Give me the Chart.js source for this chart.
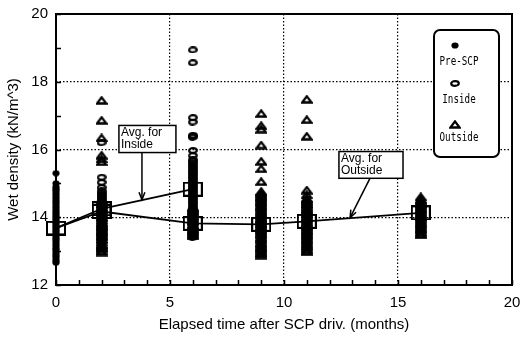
<!DOCTYPE html>
<html>
<head>
<meta charset="utf-8">
<script src="https://cdn.jsdelivr.net/npm/chart.js@4.4.1/dist/chart.umd.min.js"></script>
<style>
  html, body { margin: 0; padding: 0; background: #fff; }
  #wrap { width: 520px; height: 338px; }
</style>
</head>
<body>
<div id="wrap"><canvas id="c" width="520" height="338"></canvas></div>
<script>
// Wet density (kN/m^3) of individual samples, grouped by elapsed month
const preScpM0 = [12.66, 12.71, 12.77, 12.84, 12.9, 12.97, 13.03, 13.08, 13.15, 13.21, 13.28, 13.34, 13.39,
  13.45, 13.52, 13.58, 13.63, 13.69, 13.74, 13.8, 13.85, 13.91, 13.97, 14.02, 14.08, 14.14, 14.2, 14.27,
  14.33, 14.4, 14.46, 14.52, 14.59, 14.66, 14.72, 14.79, 14.84, 14.9, 15.0, 15.3];

const insideM2 = [13.35, 13.4, 13.46, 13.51, 13.57, 13.62, 13.68, 13.73, 13.79, 13.84, 13.9, 13.95, 14.01,
  14.06, 14.12, 14.17, 14.23, 14.28, 14.34, 14.39, 14.45, 14.5, 14.56, 14.61, 14.67, 14.72, 14.78,
  14.88, 15.03, 15.18, 16.2];
const insideM6 = [13.4, 13.45, 13.51, 13.56, 13.62, 13.67, 13.73, 13.78, 13.84, 13.89, 13.95, 14.0, 14.06,
  14.11, 14.17, 14.22, 14.28, 14.33, 14.39, 14.44, 14.5, 14.55, 14.61, 14.66, 14.72, 14.77, 14.83, 14.88,
  14.94, 14.99, 15.05, 15.1, 15.16, 15.21, 15.27, 15.32, 15.38, 15.43, 15.49, 15.54, 15.6, 15.65, 15.7,
  15.82, 15.97, 16.36, 16.39, 16.42, 16.81, 16.94, 18.56, 18.94];

const outsideM2 = [12.97, 13.01, 13.08, 13.12, 13.18, 13.21, 13.27, 13.33, 13.36, 13.42, 13.46, 13.53, 13.57,
  13.61, 13.68, 13.72, 13.77, 13.83, 13.86, 13.92, 13.98, 14.01, 14.07, 14.13, 14.16, 14.22, 14.27, 14.31,
  14.38, 14.42, 14.47, 14.52, 15.64, 15.72, 15.83, 16.34, 16.86, 17.45];
const outsideM6 = [13.45, 13.49, 13.55, 13.6, 13.64, 13.71, 13.75, 13.8, 13.86, 13.9, 13.96, 14.01, 14.05,
  14.11, 14.16, 14.2, 14.26, 14.3];
const outsideM9 = [12.88, 12.93, 12.97, 13.03, 13.08, 13.12, 13.18, 13.23, 13.27, 13.33, 13.38, 13.42, 13.48,
  13.52, 13.58, 13.63, 13.67, 13.73, 13.78, 13.82, 13.88, 13.93, 13.97, 14.03, 14.08, 14.12, 14.18, 14.22,
  14.28, 14.33, 14.37, 14.43, 14.47, 14.53, 14.58, 14.62, 14.68, 14.72, 14.76,
  15.05, 15.43, 15.65, 16.13, 16.6, 16.7, 17.06];
const outsideM11 = [12.98, 13.03, 13.07, 13.13, 13.18, 13.22, 13.28, 13.33, 13.37, 13.43, 13.48, 13.52, 13.58,
  13.62, 13.68, 13.73, 13.77, 13.83, 13.87, 13.93, 13.98, 14.02, 14.08, 14.12, 14.18, 14.23, 14.27, 14.33,
  14.38, 14.42, 14.47, 14.52, 14.56, 14.66, 14.8, 16.39, 16.88, 17.48];
const outsideM16 = [13.48, 13.53, 13.57, 13.63, 13.68, 13.72, 13.78, 13.83, 13.87, 13.93, 13.98, 14.02, 14.08,
  14.12, 14.18, 14.23, 14.27, 14.33, 14.38, 14.42, 14.48, 14.53, 14.6];

// Average wet density curves
const avgInsideMonths = [0, 2, 6];
const avgInside = [13.68, 14.25, 14.83];
const avgOutsideMonths = [0, 2, 6, 9, 11, 16];
const avgOutside = [13.68, 14.17, 13.82, 13.79, 13.88, 14.13];

// Axis ranges and labels
const xRange = [0, 20];
const yRange = [12, 20];
const xTitle = 'Elapsed time after SCP driv. (months)';
const yTitle = 'Wet density (kN/m^3)';
const legendNames = ['Pre-SCP', 'Inside', 'Outside'];
const noteInside = ['Avg. for', 'Inside'];
const noteOutside = ['Avg. for', 'Outside'];

const at = (month, values) => values.map(v => ({ x: month, y: v }));
const pairs = (xs, ys) => xs.map((x, i) => ({ x, y: ys[i] }));

// Marker sprites
function sprite(w, h, paint) {
  const c = document.createElement('canvas');
  c.width = w; c.height = h;
  const g = c.getContext('2d');
  g.strokeStyle = '#000'; g.fillStyle = '#000';
  paint(g, w, h);
  return c;
}
const dotMark = sprite(8, 7, g => { g.beginPath(); g.ellipse(4, 3.5, 3.6, 3.1, 0, 0, Math.PI * 2); g.fill(); });
const ovalMark = sprite(10, 7, g => { g.lineWidth = 2.2; g.beginPath(); g.ellipse(5, 3.5, 3.8, 2.3, 0, 0, Math.PI * 2); g.stroke(); });
const triMark = sprite(12, 9, g => { g.lineWidth = 2.3; g.lineJoin = 'miter'; g.beginPath(); g.moveTo(6, 1.4); g.lineTo(10.6, 7.5); g.lineTo(1.4, 7.5); g.closePath(); g.stroke(); });
const boxMark = sprite(20, 15, g => { g.lineWidth = 2; g.strokeRect(1, 1, 18, 13); });

const FONT = "'Liberation Sans', Arial, sans-serif";

// Fixed axis band sizes, without the extra room Chart.js reserves for edge labels
const fixBand = size => s => {
  if (s.isHorizontal()) s.height = size; else s.width = size;
  s.paddingLeft = 0; s.paddingRight = 0; s.paddingTop = 0; s.paddingBottom = 0;
};

// Frame, inward ticks, annotations and legend
const decorations = {
  id: 'decorations',
  afterDatasetsDraw(chart) {
    const { ctx, chartArea: a, scales: { x, y } } = chart;
    ctx.save();
    ctx.strokeStyle = '#000';
    ctx.lineWidth = 1.5;
    ctx.beginPath();
    x.ticks.forEach(t => { const p = Math.round(x.getPixelForValue(t.value)) + 0.5; ctx.moveTo(p, a.bottom); ctx.lineTo(p, a.bottom - 5); });
    y.ticks.forEach(t => { const p = Math.round(y.getPixelForValue(t.value)) + 0.5; ctx.moveTo(a.left, p); ctx.lineTo(a.left + 5, p); });
    ctx.stroke();
    ctx.lineWidth = 2;
    ctx.strokeRect(a.left, a.top, a.right - a.left, a.bottom - a.top);

    // callout boxes with arrows
    const note = (lines, box, from, to) => {
      const l = x.getPixelForValue(box[0]), r = x.getPixelForValue(box[1]);
      const t = y.getPixelForValue(box[2]), b = y.getPixelForValue(box[3]);
      const fx = x.getPixelForValue(from[0]), fy = y.getPixelForValue(from[1]);
      const tx = x.getPixelForValue(to[0]), ty = y.getPixelForValue(to[1]);
      ctx.lineWidth = 1.5;
      ctx.beginPath(); ctx.moveTo(fx, fy); ctx.lineTo(tx, ty); ctx.stroke();
      const ang = Math.atan2(ty - fy, tx - fx), len = 8, spread = 0.38;
      ctx.beginPath();
      ctx.moveTo(tx - len * Math.cos(ang - spread), ty - len * Math.sin(ang - spread));
      ctx.lineTo(tx, ty);
      ctx.lineTo(tx - len * Math.cos(ang + spread), ty - len * Math.sin(ang + spread));
      ctx.stroke();
      ctx.fillStyle = '#fff';
      ctx.fillRect(l, t, r - l, b - t);
      ctx.strokeRect(l, t, r - l, b - t);
      ctx.fillStyle = '#000';
      ctx.font = '12px ' + FONT;
      ctx.textAlign = 'left'; ctx.textBaseline = 'middle';
      ctx.fillText(lines[0], l + 2, t + 7.5);
      ctx.fillText(lines[1], l + 2, t + 19.5);
    };
    note(noteInside, [2.76, 5.26, 16.71, 15.91], [3.77, 15.91], [3.77, 14.52]);
    note(noteOutside, [12.41, 15.22, 15.94, 15.15], [13.77, 15.15], [12.9, 13.99]);

    // legend
    const lx = a.right - 78, ly = a.top + 16, lw = 65, lh = 127, rad = 6;
    ctx.lineWidth = 2;
    ctx.fillStyle = '#fff';
    ctx.beginPath();
    ctx.roundRect(lx, ly, lw, lh, rad);
    ctx.fill(); ctx.stroke();
    const marks = [dotMark, ovalMark, triMark];
    const markY = [15, 53, 94];
    const textY = [32, 70, 108];
    ctx.fillStyle = '#000';
    ctx.font = "12.5px 'DejaVu Sans Mono', monospace";
    ctx.textAlign = 'center'; ctx.textBaseline = 'middle';
    for (let i = 0; i < 3; i++) {
      const m = marks[i];
      ctx.drawImage(m, Math.round(lx + 21 - m.width / 2), Math.round(ly + markY[i] - m.height / 2));
      ctx.save();
      ctx.translate(lx + 25, ly + textY[i]);
      ctx.scale(0.74, 1);
      ctx.fillText(legendNames[i], 0, 0);
      ctx.restore();
    }
    ctx.restore();
  }
};

const scatterDefaults = { showLine: false, pointRadius: 4, borderColor: '#000', backgroundColor: '#000' };

new Chart(document.getElementById('c'), {
  type: 'scatter',
  data: {
    datasets: [
      { label: 'Avg. Inside', data: pairs(avgInsideMonths, avgInside), showLine: true, borderColor: '#000',
        borderWidth: 1.8, pointStyle: boxMark, pointRadius: 8 },
      { label: 'Avg. Outside', data: pairs(avgOutsideMonths, avgOutside), showLine: true, borderColor: '#000',
        borderWidth: 1.8, pointStyle: boxMark, pointRadius: 8 },
      { label: legendNames[0], data: at(0, preScpM0), pointStyle: dotMark, ...scatterDefaults },
      { label: legendNames[1], data: [...at(2, insideM2), ...at(6, insideM6)], pointStyle: ovalMark, ...scatterDefaults },
      { label: legendNames[2], data: [...at(2, outsideM2), ...at(6, outsideM6), ...at(9, outsideM9),
        ...at(11, outsideM11), ...at(16, outsideM16)], pointStyle: triMark, ...scatterDefaults }
    ]
  },
  options: {
    responsive: false,
    animation: false,
    events: [],
    clip: false,
    layout: { autoPadding: false, padding: { top: 14, right: 8, left: 0, bottom: 0 } },
    plugins: { legend: { display: false }, tooltip: { enabled: false } },
    scales: {
      x: {
        type: 'linear', min: xRange[0], max: xRange[1],
        afterFit: fixBand(53),
        border: { display: false, dash: [1.5, 2] },
        grid: {
          drawTicks: false, lineWidth: 1.2,
          color: c => (c.tick && c.tick.value % 5 === 0 && c.tick.value > xRange[0] && c.tick.value < xRange[1]) ? '#000' : 'rgba(0,0,0,0)'
        },
        ticks: {
          stepSize: 1, autoSkip: false, maxRotation: 0, padding: 9, color: '#000',
          font: { family: FONT, size: 15 },
          callback: v => (v % 5 === 0 ? String(v) : '')
        },
        title: { display: true, text: xTitle, color: '#000', font: { family: FONT, size: 15 }, padding: { top: 0, bottom: 4 } }
      },
      y: {
        type: 'linear', min: yRange[0], max: yRange[1],
        afterFit: fixBand(56),
        border: { display: false, dash: [1.5, 2] },
        grid: {
          drawTicks: false, lineWidth: 1.2,
          color: c => (c.tick && c.tick.value % 2 === 0 && c.tick.value > yRange[0] && c.tick.value < yRange[1]) ? '#000' : 'rgba(0,0,0,0)'
        },
        ticks: {
          stepSize: 1, autoSkip: false, padding: 8, color: '#000',
          font: { family: FONT, size: 15 },
          callback: v => (v % 2 === 0 ? String(v) : '')
        },
        title: { display: true, text: yTitle, color: '#000', font: { family: FONT, size: 15 }, padding: { top: 5, bottom: 0 } }
      }
    }
  },
  plugins: [decorations]
});
</script>
</body>
</html>
